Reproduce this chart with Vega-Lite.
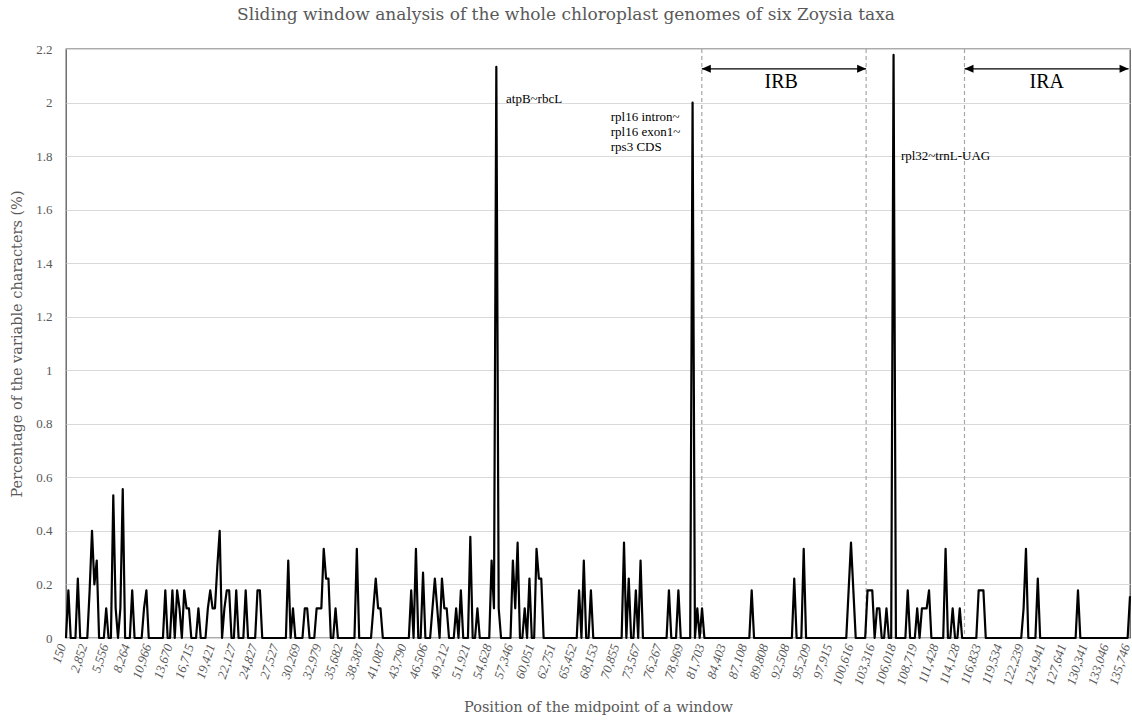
{
  "$schema": "https://vega.github.io/schema/vega-lite/v6.json",
  "width": 1064,
  "height": 589,
  "autosize": {"type": "none"},
  "padding": {"left": 66, "top": 49, "right": 2, "bottom": 84},
  "title": {
    "text": "Sliding window analysis of the whole chloroplast genomes of six Zoysia taxa",
    "font": "DejaVu Serif",
    "fontSize": 17,
    "fontWeight": "normal",
    "color": "#595959",
    "offset": 19,
    "dx": -32
  },
  "datasets": {
    "windows": [
      {"w": 0, "pct": 0}, {"w": 1, "pct": 0.178}, {"w": 2, "pct": 0},
      {"w": 4, "pct": 0}, {"w": 5, "pct": 0.222}, {"w": 6, "pct": 0},
      {"w": 9, "pct": 0}, {"w": 10, "pct": 0.178}, {"w": 11, "pct": 0.4}, {"w": 12, "pct": 0.2}, {"w": 13, "pct": 0.289}, {"w": 14, "pct": 0},
      {"w": 16, "pct": 0}, {"w": 17, "pct": 0.111}, {"w": 18, "pct": 0},
      {"w": 19, "pct": 0}, {"w": 20, "pct": 0.533}, {"w": 21, "pct": 0.111}, {"w": 22, "pct": 0}, {"w": 23, "pct": 0.111}, {"w": 24, "pct": 0.556}, {"w": 25, "pct": 0},
      {"w": 27, "pct": 0}, {"w": 28, "pct": 0.178}, {"w": 29, "pct": 0},
      {"w": 32, "pct": 0}, {"w": 33, "pct": 0.111}, {"w": 34, "pct": 0.178}, {"w": 35, "pct": 0},
      {"w": 41, "pct": 0}, {"w": 42, "pct": 0.178}, {"w": 43, "pct": 0},
      {"w": 44, "pct": 0}, {"w": 45, "pct": 0.178}, {"w": 46, "pct": 0},
      {"w": 47, "pct": 0.178}, {"w": 48, "pct": 0.111}, {"w": 49, "pct": 0}, {"w": 50, "pct": 0.178}, {"w": 51, "pct": 0.111}, {"w": 52, "pct": 0.111}, {"w": 53, "pct": 0},
      {"w": 55, "pct": 0}, {"w": 56, "pct": 0.111}, {"w": 57, "pct": 0},
      {"w": 59, "pct": 0}, {"w": 60, "pct": 0.111}, {"w": 61, "pct": 0.178}, {"w": 62, "pct": 0.111}, {"w": 63, "pct": 0.111}, {"w": 64, "pct": 0.267}, {"w": 65, "pct": 0.4}, {"w": 66, "pct": 0},
      {"w": 67, "pct": 0.111}, {"w": 68, "pct": 0.178}, {"w": 69, "pct": 0.178}, {"w": 70, "pct": 0},
      {"w": 71, "pct": 0}, {"w": 72, "pct": 0.178}, {"w": 73, "pct": 0},
      {"w": 75, "pct": 0}, {"w": 76, "pct": 0.178}, {"w": 77, "pct": 0},
      {"w": 80, "pct": 0}, {"w": 81, "pct": 0.178}, {"w": 82, "pct": 0.178}, {"w": 83, "pct": 0},
      {"w": 93, "pct": 0}, {"w": 94, "pct": 0.289}, {"w": 95, "pct": 0}, {"w": 96, "pct": 0.111}, {"w": 97, "pct": 0},
      {"w": 100, "pct": 0}, {"w": 101, "pct": 0.111}, {"w": 102, "pct": 0.111}, {"w": 103, "pct": 0},
      {"w": 105, "pct": 0}, {"w": 106, "pct": 0.111}, {"w": 107, "pct": 0.111}, {"w": 108, "pct": 0.111}, {"w": 109, "pct": 0.333}, {"w": 110, "pct": 0.222}, {"w": 111, "pct": 0.222}, {"w": 112, "pct": 0},
      {"w": 113, "pct": 0}, {"w": 114, "pct": 0.111}, {"w": 115, "pct": 0},
      {"w": 122, "pct": 0}, {"w": 123, "pct": 0.333}, {"w": 124, "pct": 0},
      {"w": 129, "pct": 0}, {"w": 130, "pct": 0.111}, {"w": 131, "pct": 0.222}, {"w": 132, "pct": 0.111}, {"w": 133, "pct": 0.111}, {"w": 134, "pct": 0},
      {"w": 145, "pct": 0}, {"w": 146, "pct": 0.178}, {"w": 147, "pct": 0}, {"w": 148, "pct": 0.333}, {"w": 149, "pct": 0},
      {"w": 150, "pct": 0}, {"w": 151, "pct": 0.244}, {"w": 152, "pct": 0},
      {"w": 154, "pct": 0}, {"w": 155, "pct": 0.111}, {"w": 156, "pct": 0.222}, {"w": 157, "pct": 0.111}, {"w": 158, "pct": 0}, {"w": 159, "pct": 0.222}, {"w": 160, "pct": 0.111}, {"w": 161, "pct": 0.111}, {"w": 162, "pct": 0},
      {"w": 164, "pct": 0}, {"w": 165, "pct": 0.111}, {"w": 166, "pct": 0}, {"w": 167, "pct": 0.178}, {"w": 168, "pct": 0},
      {"w": 170, "pct": 0}, {"w": 171, "pct": 0.378}, {"w": 172, "pct": 0},
      {"w": 173, "pct": 0}, {"w": 174, "pct": 0.111}, {"w": 175, "pct": 0},
      {"w": 179, "pct": 0}, {"w": 180, "pct": 0.289}, {"w": 181, "pct": 0.111}, {"w": 182, "pct": 2.133}, {"w": 183, "pct": 0.111}, {"w": 184, "pct": 0},
      {"w": 188, "pct": 0}, {"w": 189, "pct": 0.289}, {"w": 190, "pct": 0.111}, {"w": 191, "pct": 0.356}, {"w": 192, "pct": 0},
      {"w": 193, "pct": 0}, {"w": 194, "pct": 0.111}, {"w": 195, "pct": 0}, {"w": 196, "pct": 0.222}, {"w": 197, "pct": 0},
      {"w": 198, "pct": 0}, {"w": 199, "pct": 0.333}, {"w": 200, "pct": 0.222}, {"w": 201, "pct": 0.222}, {"w": 202, "pct": 0},
      {"w": 216, "pct": 0}, {"w": 217, "pct": 0.178}, {"w": 218, "pct": 0}, {"w": 219, "pct": 0.289}, {"w": 220, "pct": 0},
      {"w": 221, "pct": 0}, {"w": 222, "pct": 0.178}, {"w": 223, "pct": 0},
      {"w": 235, "pct": 0}, {"w": 236, "pct": 0.356}, {"w": 237, "pct": 0}, {"w": 238, "pct": 0.222}, {"w": 239, "pct": 0},
      {"w": 240, "pct": 0}, {"w": 241, "pct": 0.178}, {"w": 242, "pct": 0}, {"w": 243, "pct": 0.289}, {"w": 244, "pct": 0},
      {"w": 254, "pct": 0}, {"w": 255, "pct": 0.178}, {"w": 256, "pct": 0},
      {"w": 258, "pct": 0}, {"w": 259, "pct": 0.178}, {"w": 260, "pct": 0},
      {"w": 264, "pct": 0}, {"w": 265, "pct": 2.0}, {"w": 266, "pct": 0}, {"w": 267, "pct": 0.111}, {"w": 268, "pct": 0}, {"w": 269, "pct": 0.111}, {"w": 270, "pct": 0},
      {"w": 289, "pct": 0}, {"w": 290, "pct": 0.178}, {"w": 291, "pct": 0},
      {"w": 307, "pct": 0}, {"w": 308, "pct": 0.222}, {"w": 309, "pct": 0},
      {"w": 311, "pct": 0}, {"w": 312, "pct": 0.333}, {"w": 313, "pct": 0},
      {"w": 330, "pct": 0}, {"w": 331, "pct": 0.178}, {"w": 332, "pct": 0.356}, {"w": 333, "pct": 0.178}, {"w": 334, "pct": 0},
      {"w": 338, "pct": 0}, {"w": 339, "pct": 0.178}, {"w": 340, "pct": 0.178}, {"w": 341, "pct": 0.178}, {"w": 342, "pct": 0},
      {"w": 343, "pct": 0.111}, {"w": 344, "pct": 0.111}, {"w": 345, "pct": 0},
      {"w": 346, "pct": 0}, {"w": 347, "pct": 0.111}, {"w": 348, "pct": 0},
      {"w": 349, "pct": 0}, {"w": 350, "pct": 2.178}, {"w": 351, "pct": 0},
      {"w": 355, "pct": 0}, {"w": 356, "pct": 0.178}, {"w": 357, "pct": 0},
      {"w": 359, "pct": 0}, {"w": 360, "pct": 0.111}, {"w": 361, "pct": 0}, {"w": 362, "pct": 0.111}, {"w": 363, "pct": 0.111}, {"w": 364, "pct": 0.111}, {"w": 365, "pct": 0.178}, {"w": 366, "pct": 0},
      {"w": 371, "pct": 0}, {"w": 372, "pct": 0.333}, {"w": 373, "pct": 0},
      {"w": 374, "pct": 0}, {"w": 375, "pct": 0.111}, {"w": 376, "pct": 0},
      {"w": 377, "pct": 0}, {"w": 378, "pct": 0.111}, {"w": 379, "pct": 0},
      {"w": 385, "pct": 0}, {"w": 386, "pct": 0.178}, {"w": 387, "pct": 0.178}, {"w": 388, "pct": 0.178}, {"w": 389, "pct": 0},
      {"w": 404, "pct": 0}, {"w": 405, "pct": 0.111}, {"w": 406, "pct": 0.333}, {"w": 407, "pct": 0},
      {"w": 410, "pct": 0}, {"w": 411, "pct": 0.222}, {"w": 412, "pct": 0},
      {"w": 427, "pct": 0}, {"w": 428, "pct": 0.178}, {"w": 429, "pct": 0},
      {"w": 449, "pct": 0}, {"w": 450, "pct": 0.156}
    ],
    "boundaries": [{"w": 268.9}, {"w": 338.4}, {"w": 380.0}],
    "regions": [
      {"region": "IRB", "start": 268.9, "end": 338.4, "mid": 302.5, "arrowY": 2.126, "labelY": 2.076},
      {"region": "IRA", "start": 380.0, "end": 449.4, "mid": 414.8, "arrowY": 2.126, "labelY": 2.076}
    ],
    "genes": [
      {"w": 186.1, "pct": 2.036, "label": "atpB~rbcL"},
      {"w": 230.4, "pct": 1.967, "label": "rpl16 intron~\nrpl16 exon1~\nrps3 CDS"},
      {"w": 353.1, "pct": 1.824, "label": "rpl32~trnL-UAG"}
    ]
  },
  "encoding": {
    "x": {
      "field": "w",
      "type": "quantitative",
      "scale": {"domain": [0, 450], "nice": false, "zero": false},
      "axis": {
        "values": [0, 9, 18, 27, 36, 45, 54, 63, 72, 81, 90, 99, 108, 117, 126, 135, 144, 153, 162, 171, 180, 189, 198, 207, 216, 225, 234, 243, 252, 261, 270, 279, 288, 297, 306, 315, 324, 333, 342, 351, 360, 369, 378, 387, 396, 405, 414, 423, 432, 441, 450],
        "labelExpr": "['150','2,852','5,556','8,264','10,966','13,670','16,715','19,421','22,127','24,827','27,527','30,269','32,979','35,682','38,387','41,087','43,790','46,506','49,212','51,921','54,628','57,346','60,051','62,751','65,452','68,153','70,855','73,567','76,267','78,969','81,703','84,403','87,108','89,808','92,508','95,209','97,915','100,616','103,316','106,018','108,719','111,428','114,128','116,833','119,534','122,239','124,941','127,641','130,341','133,046','135,746'][round(datum.value / 9)]",
        "labelAngle": -72,
        "labelAlign": "right",
        "labelBaseline": "middle",
        "labelFontStyle": "italic",
        "labelFontSize": 13,
        "labelColor": "#595959",
        "labelPadding": 6,
        "labelOffset": -4,
        "labelOverlap": false,
        "labelFlush": false,
        "ticks": false,
        "domain": false,
        "grid": false,
        "title": "Position of the midpoint of a window",
        "titleFont": "DejaVu Serif",
        "titleFontSize": 14.5,
        "titleFontWeight": "normal",
        "titleColor": "#595959",
        "titlePadding": 14
      }
    },
    "y": {
      "field": "pct",
      "type": "quantitative",
      "scale": {"domain": [0, 2.2], "nice": false},
      "axis": {
        "values": [0, 0.2, 0.4, 0.6, 0.8, 1, 1.2, 1.4, 1.6, 1.8, 2, 2.2],
        "format": "~g",
        "labelFontSize": 13,
        "labelColor": "#595959",
        "labelPadding": 14,
        "ticks": false,
        "domain": false,
        "grid": true,
        "gridColor": "#d9d9d9",
        "title": "Percentage of the variable characters (%)",
        "titleFont": "DejaVu Serif",
        "titleFontSize": 14.5,
        "titleFontWeight": "normal",
        "titleColor": "#595959",
        "titlePadding": 11
      }
    }
  },
  "layer": [
    {
      "data": {"name": "boundaries"},
      "mark": {"type": "rule", "color": "#a6a6a6", "strokeWidth": 1.2, "strokeDash": [4, 3]},
      "encoding": {"y": null}
    },
    {
      "data": {"name": "windows"},
      "mark": {"type": "line", "color": "black", "strokeWidth": 2.2, "strokeJoin": "round"}
    },
    {
      "data": {"name": "regions"},
      "mark": {"type": "rule", "color": "black", "strokeWidth": 1.2},
      "encoding": {
        "x": {"field": "start", "type": "quantitative"},
        "x2": {"field": "end"},
        "y": {"field": "arrowY", "type": "quantitative"}
      }
    },
    {
      "data": {"name": "regions"},
      "mark": {"type": "point", "shape": "M0,0L1,-0.45L1,0.45Z", "filled": true, "color": "black", "opacity": 1, "size": 324},
      "encoding": {
        "x": {"field": "start", "type": "quantitative"},
        "y": {"field": "arrowY", "type": "quantitative"}
      }
    },
    {
      "data": {"name": "regions"},
      "mark": {"type": "point", "shape": "M0,0L-1,-0.45L-1,0.45Z", "filled": true, "color": "black", "opacity": 1, "size": 324},
      "encoding": {
        "x": {"field": "end", "type": "quantitative"},
        "y": {"field": "arrowY", "type": "quantitative"}
      }
    },
    {
      "data": {"name": "regions"},
      "mark": {"type": "text", "fontSize": 20, "color": "black", "align": "center", "baseline": "middle"},
      "encoding": {
        "x": {"field": "mid", "type": "quantitative"},
        "y": {"field": "labelY", "type": "quantitative"},
        "text": {"field": "region"}
      }
    },
    {
      "data": {"name": "genes"},
      "mark": {"type": "text", "fontSize": 13, "color": "black", "align": "left", "baseline": "top", "lineBreak": "\n", "lineHeight": 15},
      "encoding": {
        "text": {"field": "label"}
      }
    }
  ],
  "config": {
    "font": "Liberation Serif",
    "view": {"stroke": "#595959", "strokeWidth": 1.3}
  }
}
